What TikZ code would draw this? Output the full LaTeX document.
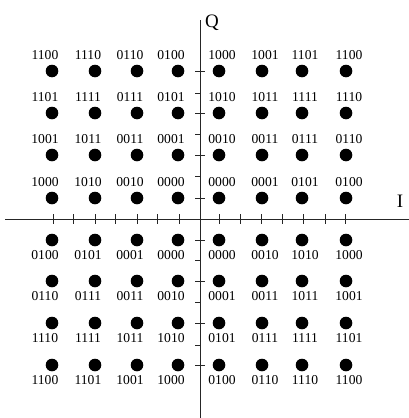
\documentclass[tikz,border=0pt]{standalone}
\usepackage{fontspec}
\setmainfont{Liberation Serif}
\usetikzlibrary{calc}
\begin{document}
\begin{tikzpicture}[x=1pt,y=-1pt,
  axis/.style={line width=0.9pt,draw=black!85},
  tick/.style={line width=0.8pt,draw=black!85},
  pt/.style={circle,fill=black,inner sep=0pt,minimum size=12.6pt},
  lbl/.style={inner sep=0pt,font=\fontsize{13.6}{14}\selectfont},
  axlbl/.style={inner sep=0pt,font=\fontsize{19}{20}\selectfont}]
\useasboundingbox (0,0) rectangle (409,418);
% axes
\coordinate (xl) at (5,219);
\coordinate (xr) at (409,219);
\coordinate (yt) at (200,20);
\coordinate (yb) at (200,418);
\draw[axis] (xl) -- (xr);
\draw[axis] (yt) -- (yb);
\node[axlbl] (Q) at (212,23) {Q};
\node[axlbl] (I) at (400,201) {I};
% ticks on the I axis
\foreach \x in {53,73,95,115,137,157,179,219,240,261,282,303,325,345}
  \draw[tick] (\x,214) -- (\x,224);
% ticks on the Q axis: crossing at symbol rows, left-only in between
\foreach \y in {71,113,155,198,240,281,323,365}
  \draw[tick] (195,\y) -- (205,\y);
\foreach \y in {93,134,176,260,302,345}
  \draw[tick] (195,\y) -- (200,\y);
% upper half: points with codes above
\foreach \y/\row [count=\r] in {71/{1100,1110,0110,0100,1000,1001,1101,1100},
                     113/{1101,1111,0111,0101,1010,1011,1111,1110},
                     155/{1001,1011,0011,0001,0010,0011,0111,0110},
                     198/{1000,1010,0010,0000,0000,0001,0101,0100}}{
  \foreach \x [count=\k] in {52,95,137,178,219,262,302,346}{
    \node[pt] (u\r-\k) at (\x,\y) {};
  }
  \foreach \t [count=\k] in \row {
    \pgfmathsetmacro{\dx}{\k<5 ? -7 : 3}
    \node[lbl] (ul\r-\k) at ($(u\r-\k)+(\dx,-15.5)$) {\t};
  }
}
% lower half: points with codes below
\foreach \y/\row [count=\r] in {240/{0100,0101,0001,0000,0000,0010,1010,1000},
                     281/{0110,0111,0011,0010,0001,0011,1011,1001},
                     323/{1110,1111,1011,1010,0101,0111,1111,1101},
                     365/{1100,1101,1001,1000,0100,0110,1110,1100}}{
  \foreach \x [count=\k] in {52,95,137,178,219,262,302,346}{
    \node[pt] (d\r-\k) at (\x,\y) {};
  }
  \foreach \t [count=\k] in \row {
    \pgfmathsetmacro{\dx}{\k<5 ? -7 : 3}
    \node[lbl] (dl\r-\k) at ($(d\r-\k)+(\dx,15.5)$) {\t};
  }
}
\end{tikzpicture}
\end{document}
